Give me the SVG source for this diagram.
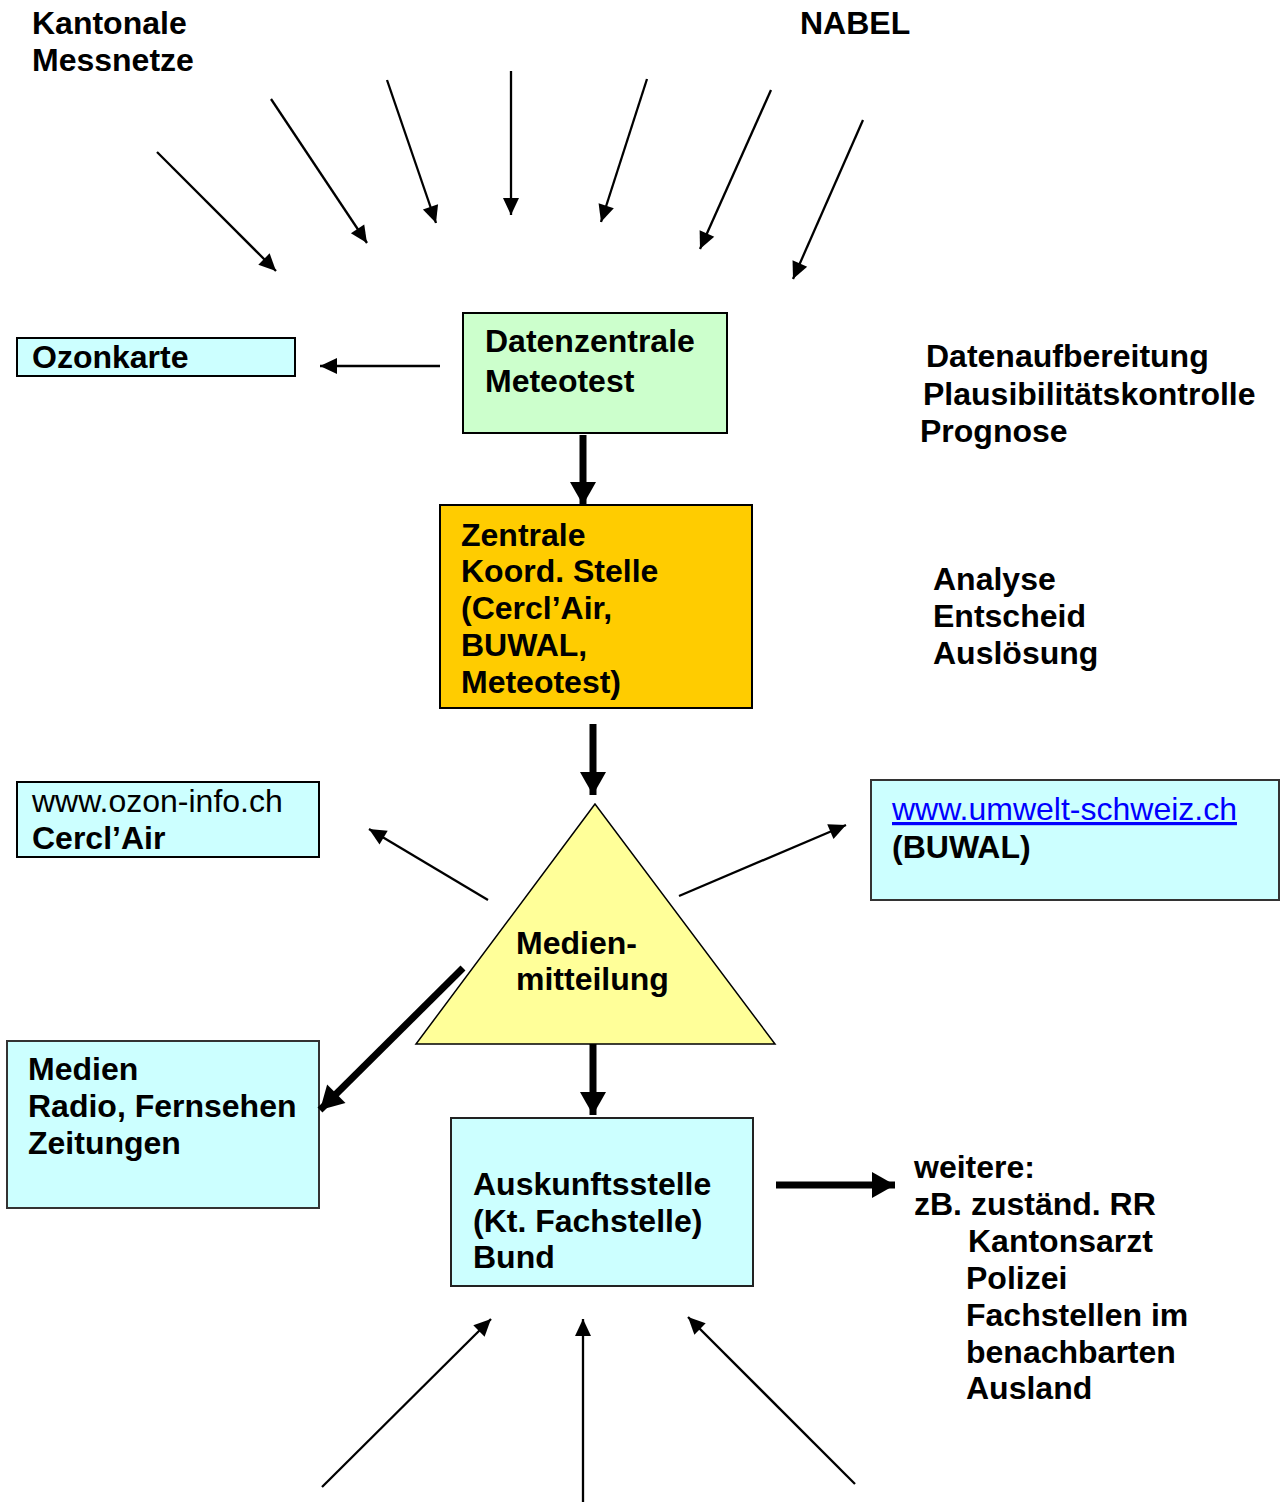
<svg xmlns="http://www.w3.org/2000/svg" width="1280" height="1504" viewBox="0 0 1280 1504">
<style>
text{font-family:"Liberation Sans",Arial,sans-serif;font-size:32px;font-weight:bold;fill:#000}
.reg{font-weight:normal}
.link{font-weight:normal;fill:#0000ff;text-decoration:underline}
.box{stroke:#000;stroke-width:2}
.cyan{fill:#ccffff}
.thin{stroke:#000;stroke-width:2.3;fill:none;marker-end:url(#ah)}
.thick{stroke:#000;stroke-width:7;fill:none;marker-end:url(#ahb)}
</style>
<defs>
<marker id="ah" markerUnits="userSpaceOnUse" markerWidth="20" markerHeight="18" refX="17" refY="8" orient="auto" overflow="visible">
<path d="M0,0 L17,8 L0,16 z" fill="#000"/>
</marker>
<marker id="ahb" markerUnits="userSpaceOnUse" markerWidth="26" markerHeight="28" refX="23" refY="13" orient="auto" overflow="visible">
<path d="M0,0 L23,13 L0,26 z" fill="#000"/>
</marker>
</defs>
<rect width="1280" height="1504" fill="#fff"/>

<g id="labels">
<text x="32" y="34">Kantonale</text>
<text x="32" y="71">Messnetze</text>
<text x="800" y="34">NABEL</text>
<text x="926" y="367">Datenaufbereitung</text>
<text x="923" y="405">Plausibilitätskontrolle</text>
<text x="920" y="442">Prognose</text>
<text x="933" y="590">Analyse</text>
<text x="933" y="627">Entscheid</text>
<text x="933" y="664">Auslösung</text>
<text x="914" y="1178">weitere:</text>
<text x="914" y="1215">zB. zuständ. RR</text>
<text x="968" y="1252">Kantonsarzt</text>
<text x="966" y="1289">Polizei</text>
<text x="966" y="1326">Fachstellen im</text>
<text x="966" y="1363">benachbarten</text>
<text x="966" y="1399">Ausland</text>
</g>

<g id="ozonkarte">
<rect class="box cyan" x="17" y="338" width="278" height="38"/>
<text x="32" y="368">Ozonkarte</text>
</g>

<g id="datenzentrale">
<rect class="box" fill="#ccffcc" x="463" y="313" width="264" height="120"/>
<text x="485" y="352">Datenzentrale</text>
<text x="485" y="392">Meteotest</text>
</g>

<g id="zentrale">
<rect class="box" fill="#ffcc00" x="440" y="505" width="312" height="203"/>
<text x="461" y="546">Zentrale</text>
<text x="461" y="582">Koord. Stelle</text>
<text x="461" y="619">(Cercl’Air,</text>
<text x="461" y="656">BUWAL,</text>
<text x="461" y="693">Meteotest)</text>
</g>

<g id="medienmitteilung">
<polygon points="595,804 416,1044 775,1044" fill="#ffff99" stroke="#000" stroke-width="1.5"/>
<text x="516" y="954">Medien-</text>
<text x="516" y="990">mitteilung</text>
</g>

<g id="ozoninfo">
<rect class="box cyan" x="17" y="782" width="302" height="75"/>
<text class="reg" x="32" y="812">www.ozon-info.ch</text>
<text x="32" y="849">Cercl’Air</text>
</g>

<g id="umwelt">
<rect class="cyan" stroke="#333" stroke-width="2" x="871" y="780" width="408" height="120"/>
<text class="link" x="892" y="820">www.umwelt-schweiz.ch</text>
<text x="892" y="858">(BUWAL)</text>
</g>

<g id="medien">
<rect class="cyan" stroke="#333" stroke-width="2" x="7" y="1041" width="312" height="167"/>
<text x="28" y="1080">Medien</text>
<text x="28" y="1117">Radio, Fernsehen</text>
<text x="28" y="1154">Zeitungen</text>
</g>

<g id="auskunft">
<rect class="cyan" stroke="#222" stroke-width="2" x="451" y="1118" width="302" height="168"/>
<text x="473" y="1195">Auskunftsstelle</text>
<text x="473" y="1232">(Kt. Fachstelle)</text>
<text x="473" y="1268">Bund</text>
</g>

<g id="connectors">
<line class="thin" x1="157" y1="152" x2="276" y2="271"/>
<line class="thin" x1="271" y1="99" x2="367" y2="243"/>
<line class="thin" x1="387" y1="80" x2="436" y2="223"/>
<line class="thin" x1="511" y1="71" x2="511" y2="215"/>
<line class="thin" x1="647" y1="79" x2="601" y2="222"/>
<line class="thin" x1="771" y1="90" x2="700" y2="249"/>
<line class="thin" x1="863" y1="120" x2="793" y2="279"/>
<line class="thin" x1="440" y1="366" x2="320" y2="366"/>
<line class="thick" x1="583" y1="435" x2="583" y2="505"/>
<line class="thick" x1="593" y1="724" x2="593" y2="795"/>
<line class="thin" x1="488" y1="900" x2="369" y2="829"/>
<line class="thin" x1="679" y1="896" x2="846" y2="825"/>
<line class="thick" x1="463" y1="968" x2="320" y2="1110"/>
<line class="thick" x1="593" y1="1044" x2="593" y2="1115"/>
<line class="thick" x1="776" y1="1185" x2="895" y2="1185"/>
<line class="thin" x1="322" y1="1487" x2="491" y2="1319"/>
<line class="thin" x1="583" y1="1502" x2="583" y2="1319"/>
<line class="thin" x1="855" y1="1484" x2="688" y2="1317"/>
</g>
</svg>
